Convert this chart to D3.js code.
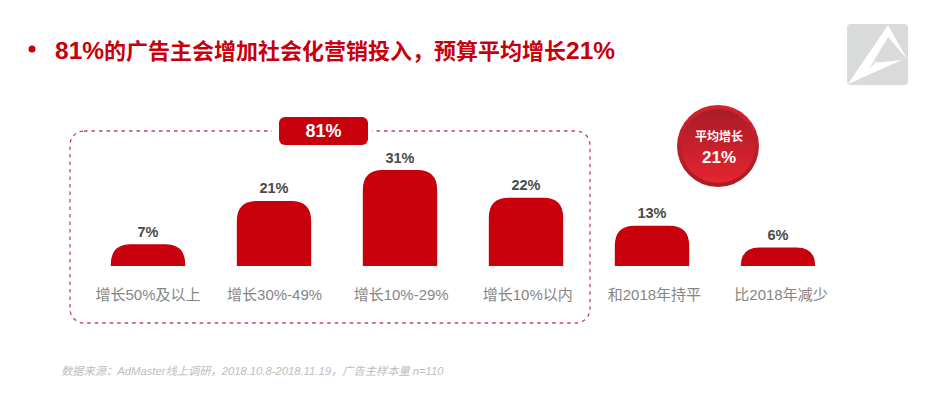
<!DOCTYPE html>
<html>
<head>
<meta charset="utf-8">
<script src="https://cdn.jsdelivr.net/npm/d3@7"></script>
<style>
  html, body { margin: 0; padding: 0; background: #fff; overflow: hidden; }
  text { font-family: "Liberation Sans", "Noto Sans CJK SC", sans-serif; }
</style>
</head>
<body>
<div id="root"></div>
<script>
const categories = ['增长50%及以上', '增长30%-49%', '增长10%-29%', '增长10%以内', '和2018年持平', '比2018年减少'];
const values = [7, 21, 31, 22, 13, 6];

const titleParts = ['81%', '的广告主会增加社会化营销投入，预算平均增长', '21%'];
const groupLabel = '81%';
const badgeLabel = '平均增长';
const badgeValue = '21%';
const sourceNote = '数据来源：AdMaster线上调研，2018.10.8-2018.11.19，广告主样本量 n=110';

const red = '#c7000b';

const svg = d3.select('#root').append('svg')
  .attr('width', 929)
  .attr('height', 400);

const defs = svg.append('defs');
const grad = defs.append('linearGradient')
  .attr('id', 'badge').attr('x1', 0).attr('x2', 0).attr('y1', 0).attr('y2', 1);
grad.append('stop').attr('offset', '0%').attr('stop-color', '#a81c28');
grad.append('stop').attr('offset', '100%').attr('stop-color', '#e5252f');
const rim = defs.append('linearGradient')
  .attr('id', 'rim').attr('x1', 0).attr('x2', 0).attr('y1', 0).attr('y2', 1);
rim.append('stop').attr('offset', '0%').attr('stop-color', '#d3222c');
rim.append('stop').attr('offset', '100%').attr('stop-color', '#a81c26');

// title
svg.append('circle').attr('cx', 32).attr('cy', 49).attr('r', 3.5).attr('fill', red);
const titleText = svg.append('text')
  .attr('x', 55).attr('y', 59)
  .attr('font-weight', 700)
  .attr('fill', red);
titleText.selectAll('tspan')
  .data(titleParts)
  .enter()
  .append('tspan')
    .attr('font-size', (d, i) => i === 1 ? 22 : 24.5)
    .text((d) => d);

// logo in the corner
svg.append('rect')
  .attr('x', 847).attr('y', 24).attr('width', 61).attr('height', 61).attr('rx', 4)
  .attr('fill', '#d9dbdb');
svg.append('path')
  .attr('d', 'M888 25 L907 59 L888 37 L869 69 L877 61 L877 62 L873 63 L902 60 L848 84 Z')
  .attr('fill', '#fff');

// dashed group box
const boxX = 70, boxY = 131, boxW = 520, boxH = 192;
svg.append('rect')
  .attr('x', boxX).attr('y', boxY).attr('width', boxW).attr('height', boxH).attr('rx', 14)
  .attr('fill', 'none')
  .attr('stroke', '#c9405c')
  .attr('stroke-width', 1.3)
  .attr('stroke-dasharray', '3.5 4');

svg.append('rect')
  .attr('x', 272).attr('y', 120).attr('width', 100).attr('height', 24)
  .attr('fill', '#fff');
svg.append('rect')
  .attr('x', 279).attr('y', 117).attr('width', 89).attr('height', 28).attr('rx', 6)
  .attr('fill', red);
svg.append('text')
  .attr('x', 323.5).attr('y', 137)
  .attr('text-anchor', 'middle')
  .attr('font-size', 18)
  .attr('font-weight', 700)
  .attr('fill', '#fff')
  .text(groupLabel);

// bars
const x = d3.scaleBand()
  .domain(categories)
  .range([85, 841])
  .paddingInner(0.41)
  .paddingOuter(0.205);

// the labels sit on a slightly wider spacing than the bars
const labelX = d3.scalePoint()
  .domain(categories)
  .range([148, 781]);

const y = d3.scaleLinear()
  .domain([0, 31])
  .range([266, 170]);

function barPath(d, i) {
  const left = x(categories[i]);
  const w = x.bandwidth();
  const top = y(d);
  const r = Math.min(20, y(0) - top);
  return `M${left} ${y(0)} V${top + r} Q${left} ${top} ${left + r} ${top}` +
    `H${left + w - r} Q${left + w} ${top} ${left + w} ${top + r} V${y(0)} Z`;
}

svg.selectAll('.bar')
  .data(values)
  .enter()
  .append('path')
    .attr('class', 'bar')
    .attr('d', barPath)
    .attr('fill', red);

svg.selectAll('.value')
  .data(values)
  .enter()
  .append('text')
    .attr('class', 'value')
    .attr('x', (d, i) => x(categories[i]) + x.bandwidth() / 2)
    .attr('y', (d) => y(d) - 7.5)
    .attr('text-anchor', 'middle')
    .attr('font-size', 14.5)
    .attr('font-weight', 700)
    .attr('fill', '#4a4a4a')
    .text((d) => d + '%');

svg.selectAll('.cat')
  .data(categories)
  .enter()
  .append('text')
    .attr('class', 'cat')
    .attr('x', (d) => labelX(d))
    .attr('y', 300)
    .attr('text-anchor', 'middle')
    .attr('font-size', 15)
    .attr('fill', '#858585')
    .text((d) => d);

// average badge
svg.append('circle').attr('cx', 718).attr('cy', 146).attr('r', 41).attr('fill', 'url(#rim)');
svg.append('circle').attr('cx', 718).attr('cy', 146).attr('r', 37).attr('fill', 'url(#badge)');
svg.append('text')
  .attr('x', 719).attr('y', 141)
  .attr('text-anchor', 'middle')
  .attr('font-size', 12)
  .attr('font-weight', 700)
  .attr('fill', '#fff')
  .text(badgeLabel);
svg.append('text')
  .attr('x', 719).attr('y', 163)
  .attr('text-anchor', 'middle')
  .attr('font-size', 17)
  .attr('font-weight', 700)
  .attr('fill', '#fff')
  .text(badgeValue);

// source
svg.append('text')
  .attr('x', 61).attr('y', 375)
  .attr('font-size', 11.25)
  .attr('font-style', 'italic')
  .attr('fill', '#bdbdbd')
  .text(sourceNote);
</script>
</body>
</html>
